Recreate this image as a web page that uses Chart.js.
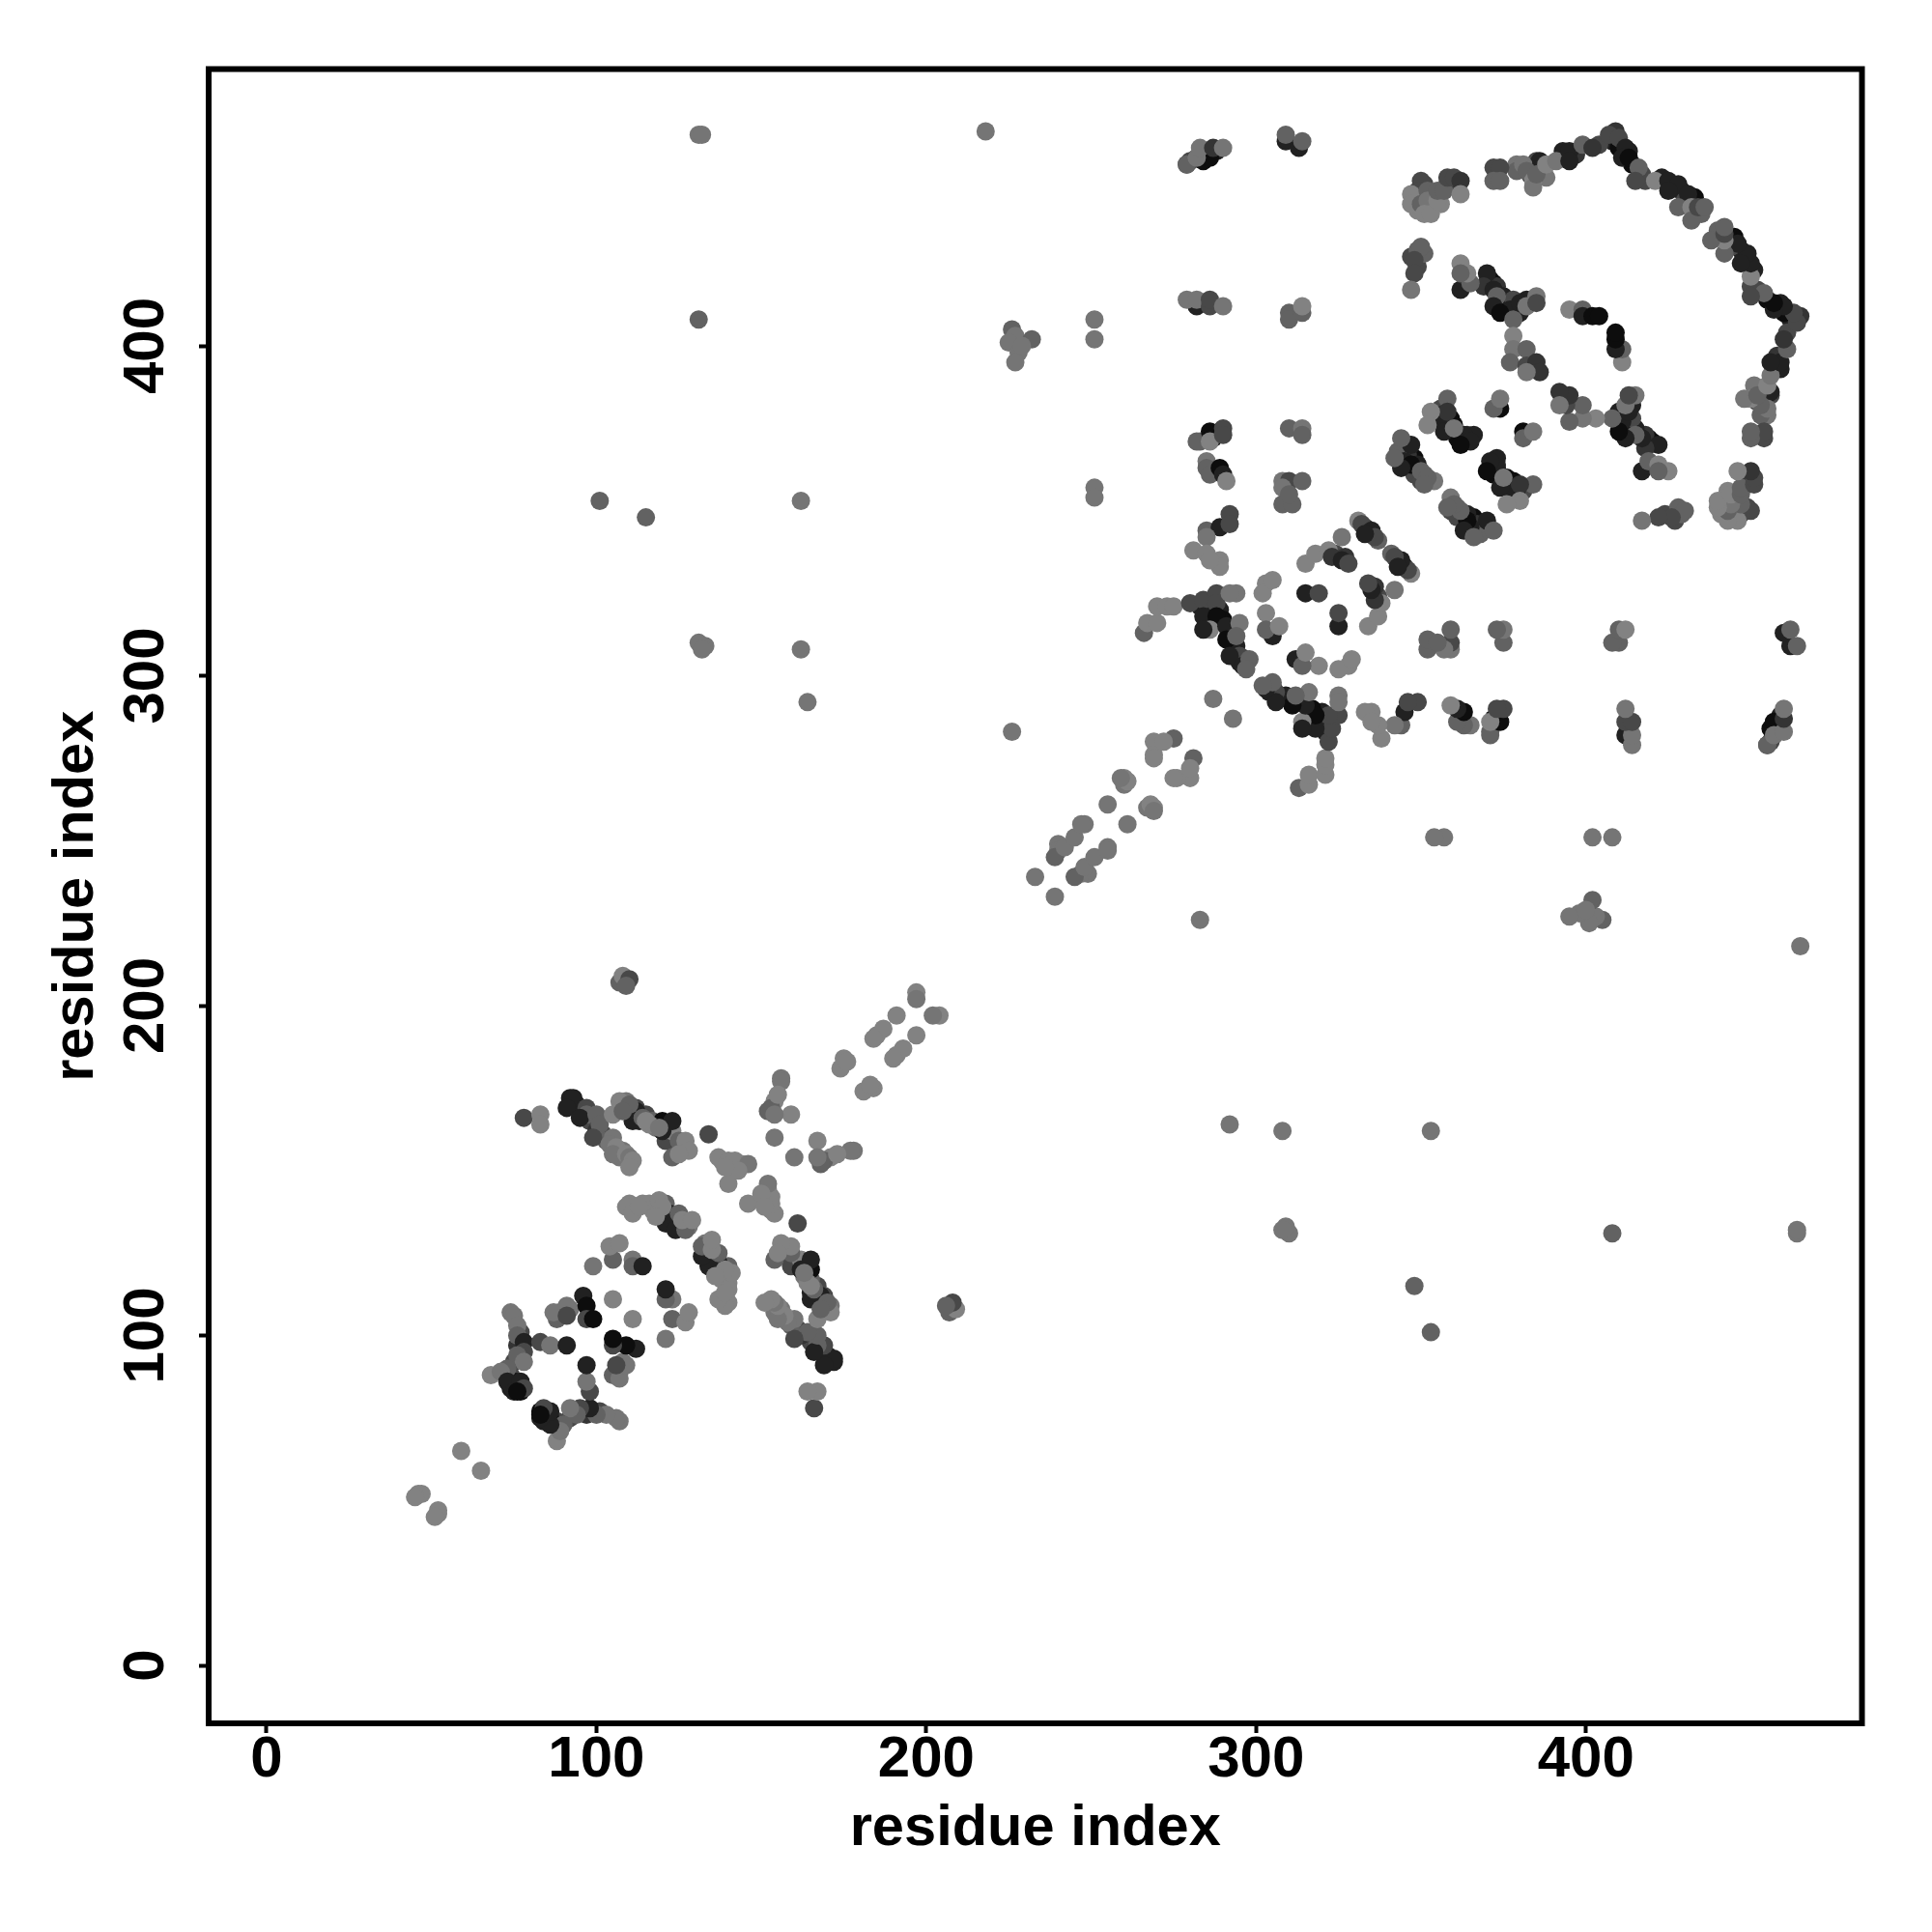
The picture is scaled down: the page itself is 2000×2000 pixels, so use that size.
<!DOCTYPE html>
<html>
<head>
<meta charset="utf-8">
<title>Residue contact map</title>
<script src="https://cdn.jsdelivr.net/npm/chart.js@4"></script>
<style>
  html, body { margin: 0; padding: 0; background: #fff; }
  canvas { display: block; }
</style>
</head>
<body>
<canvas id="contactMap" width="2000" height="2000"></canvas>
<script>
var residueA = [
  94,96,98,100,102,103,107,108,
  109,112,113,115,117,118,121,122,124,126,121,
  112,116,117,122,123,125,128,
  75,74,75,74,77,77,76,89,92,
  138,141,144,
  289,290,293,294,293,295,297,286,283,
  324,327,333,334,337,
  345,348,346,349,351,354,343,348,350,
  356,356,359,360,361,363,364,366,358,355,
  409,408,410,413,414,417,418,423,426,429,430,433,435,393,397,404,
  386,383,388,385,379,379,
  371,370,372,373,375,376,375,379,378,382,380,
  351,354,348,349,356,358,
  347,349,351,
  280,284,288,283,285,
  288,287,289,283,
  46,47,45,59,
  74,75,76,76,78,78,83,86,91,76,78,73,68,71,73,77,78,75,76,
  88,87,91,91,96,97,97,99,105,99,105,104,107,111,111,114,
  120,121,122,121,124,110,109,111,114,113,119,120,118,125,127,126,129,
  92,93,91,97,97,95,100,101,99,105,104,106,105,109,110,111,110,
  112,111,120,123,120,107,105,110,108,114,116,115,123,119,125,127,128,123,125,78,83,83,
  134,137,140,142,146,140,143,139,156,156,154,153,152,155,159,154,154,
  175,174,176,185,187,184,191,197,197,107,108,110,109,
  131,132,218,131,101,115,162,162,164,131,133,132,226,226,227,225,228,227,232,229,251,251,251,251,
  233,240,240,239,242,245,248,247,255,260,260,261,259,269,269,269,275,272,
  266,267,270,270,273,275,280,284,288,288,284,288,286,291,292,291,284,295,294,295,292,296,298,297,287,294,292,303,302,305,305,303,303,307,
  315,319,315,318,322,326,323,326,328,331,332,335,336,333,
  285,289,292,292,285,281,285,289,289,286,282,286,286,290,290,285,285,286,289,290,291,
  282,286,279,279,282,283,287,290,309,309,313,314,282,279,282,286,286,290,310,310,314,314,
  310,314,314,308,310,314,308,308,311,310,
  350,349,347,347,350,352,352,351,353,355,355,357,358,360,362,362,
  372,374,372,374,384,386,381,382,384,384,385,388,391,
  395,395,399,402,407,410,412,411,413,416,415,421,425,428,425,431,428,432,432,434,436,
  349,350,348,348,347,370,369,372,373,372,377,374,378,380,385,382,385,
  362,362,365,364,362,378,378,377,382,382,385,386,382,395,399,399,402,404,
  357,357,363,365,362,358,358,353,352,360,
  347,344,345,347,344,342,350,352,351,374,372,374
];
var residueB = [
  170,168,165,162,161,159,154,156,
  171,169,165,167,165,163,163,160,157,157,159,
  139,140,138,135,134,133,133,
  92,88,86,84,83,101,97,107,108,
  153,150,152,
  320,317,313,309,307,304,305,322,321,
  337,336,345,344,341,
  368,366,367,364,361,359,368,361,359,
  381,379,378,376,372,371,373,373,375,378,
  465,462,460,459,455,452,450,451,448,447,444,445,440,459,458,461,
  454,452,451,456,455,453,
  420,419,419,418,415,413,411,411,414,414,410,
  449,445,444,441,443,449,
  427,424,428,
  456,456,459,413,413,
  362,372,374,371,
  52,52,51,65,
  107,106,103,100,98,95,98,97,97,94,92,90,88,89,86,86,84,83,83,
  105,107,109,106,112,109,105,105,111,121,123,127,128,123,121,121,
  137,140,137,134,132,140,139,137,140,139,141,139,136,137,132,135,135,
  172,172,169,169,167,166,167,164,160,160,158,157,155,155,154,153,151,
  168,165,165,162,162,171,167,170,168,166,164,165,165,163,159,159,156,154,155,166,167,164,
  161,154,153,153,152,146,150,151,178,177,171,169,168,173,167,167,160,
  184,181,183,191,193,190,197,204,202,207,209,208,206,
  464,464,465,408,353,348,353,308,292,310,309,308,283,405,403,401,398,395,402,400,408,402,357,354,
  239,249,247,245,248,251,255,255,261,269,267,268,269,280,276,275,281,280,
  313,316,316,321,321,321,322,323,325,322,318,318,314,315,311,311,314,316,312,306,306,303,305,302,293,325,325,328,325,329,312,319,314,315,
  325,325,334,337,338,342,336,335,334,347,346,344,342,343,
  344,345,349,346,342,338,337,335,333,335,371,374,371,375,373,365,363,361,363,361,359,
  457,457,455,455,457,460,460,460,462,464,460,462,412,414,414,412,414,412,410,408,410,412,
  375,375,373,359,359,359,357,352,352,355,
  450,447,446,443,443,447,444,440,440,444,447,447,451,451,450,446,
  454,454,450,450,454,456,455,453,450,448,452,455,456,
  459,456,461,460,464,463,460,457,457,454,450,450,450,449,447,446,442,442,438,442,442,
  429,430,426,422,417,422,418,417,415,412,411,410,408,413,415,412,413,
  425,417,419,422,422,403,399,395,399,394,395,392,392,411,411,409,409,409,
  377,374,373,371,370,384,380,380,376,375,
  370,372,365,364,363,366,362,360,358,381,381,384
];
// contact strength, 0 is the lightest grey and 0.9 nearly black
var strength = [
  .75,.75,.45,.6,.45,.25,.1,.1,
  .1,.45,.75,.45,.25,.1,.75,.9,.25,.1,.45,
  0,0,0,.9,.9,.75,.1,
  .45,.45,.9,.75,.9,.45,.6,.25,.1,
  0,0,0,
  .75,.9,.9,.75,.75,.75,.6,.6,.75,
  .45,.6,.75,.6,.25,
  .75,.9,.6,.75,.25,.1,.25,.45,.45,
  .45,.75,.9,.9,.9,.75,.6,.75,.75,.1,
  .6,.75,.9,.75,.9,.45,.45,.75,.9,.75,.45,.9,.25,.75,.6,.45,
  .9,.75,.1,.45,.1,.25,
  .9,.75,.9,.6,.75,.9,.9,.45,.45,.75,.75,
  .45,.1,.1,0,0,.6,
  .45,.45,.25,
  .45,.9,.75,.75,.75,
  .9,.9,.75,.25,
  0,0,0,0,
  .1,.1,.1,.25,.75,.45,.45,.1,.75,.25,.1,.25,0,.1,.75,.75,.45,.75,.9,
  .25,.1,.1,.45,.75,.9,.45,.9,0,.1,.25,0,0,.1,.25,.75,
  .9,.25,.75,.75,.75,0,0,0,0,0,0,0,0,.25,.25,0,0,
  .75,.75,.75,.45,.25,.75,.25,.25,.45,.1,.1,0,.1,0,.1,0,0,
  .75,.75,.9,0,.75,0,0,.25,.25,.25,0,0,.75,.1,.25,0,0,.25,0,.45,0,0,
  .45,0,0,0,.1,0,0,0,.1,.1,0,.25,.25,0,0,.1,.1,
  0,0,0,0,0,0,0,0,.1,.25,0,.45,.25,
  .1,.1,.1,.25,.25,.25,.1,.1,.1,.1,.1,.1,.1,.25,.1,.1,.1,.1,.25,.1,.1,.1,.1,.1,
  .1,.1,.1,.25,.1,.1,.1,.1,.1,0,.1,0,.1,0,0,0,.25,0,
  .25,0,0,0,0,0,.45,.45,.45,.45,.75,.9,0,.75,.75,.9,.75,.1,.25,.45,.75,.75,.25,.25,.1,.1,.1,0,0,0,.75,0,.25,0,
  .75,.45,0,0,0,.1,.6,.75,.45,0,.45,.75,.45,.75,
  .25,.75,.45,.45,.1,0,0,0,0,0,.25,.9,0,.45,.45,.1,.25,.25,.9,.75,0,
  .9,.9,.45,.25,.1,.1,.6,.1,.75,.25,.75,.25,.75,.1,.1,.45,.45,.1,.25,.25,.25,0,
  .25,.1,.25,.1,.45,.25,.1,.25,.25,.25,
  .45,.45,0,0,.25,.25,.1,0,0,0,.25,.25,.45,.45,.6,0,
  .45,.45,.25,.25,.9,.75,.1,.25,0,.1,.25,0,.1,
  .75,.75,.25,.6,.45,.45,.75,.75,.9,.25,.45,0,.75,.75,.75,.75,.25,0,.25,.45,.25,
  .25,.25,.45,.45,.1,.75,.6,.75,.25,.75,.75,.9,.25,.75,.1,.1,.45,
  0,.75,.25,0,.25,0,.1,.25,.25,.45,.6,.6,.1,0,.25,.75,.9,.9,
  .75,.75,.75,.75,.9,.25,.6,0,0,.1,
  .75,.25,.75,.9,.75,.25,.25,.25,.25,.9,.25,.1
];
var tickValues = [0, 100, 200, 300, 400];
var axisLabel = "residue index";

function greyOf(s) {
  var g = Math.round(130 * (1 - s));
  return "rgb(" + g + "," + g + "," + g + ")";
}

var points = [];
var colours = [];
residueA.forEach(function(a, i) {
  points.push({ x: a, y: residueB[i] });
  colours.push(greyOf(strength[i]));
});
residueA.forEach(function(a, i) {
  points.push({ x: residueB[i], y: a });
  colours.push(greyOf(strength[i]));
});

var boxFrame = {
  id: "boxFrame",
  afterDatasetsDraw: function(chart) {
    var area = chart.chartArea;
    var ctx = chart.ctx;
    ctx.save();
    ctx.strokeStyle = "#000";
    ctx.lineWidth = 6;
    ctx.strokeRect(area.left, area.top, area.right - area.left, area.bottom - area.top);
    ctx.restore();
  }
};

var tickFont = { family: "'Liberation Sans', Arial, sans-serif", size: 60, weight: "bold" };
var titleFont = { family: "'Liberation Sans', Arial, sans-serif", size: 59.6, weight: "bold" };

new Chart(document.getElementById("contactMap"), {
  type: "scatter",
  data: {
    datasets: [{
      label: "contacts",
      data: points,
      backgroundColor: colours,
      borderWidth: 0,
      pointRadius: 9.5,
      pointHoverRadius: 9.5
    }]
  },
  options: {
    responsive: false,
    animation: false,
    layout: { padding: { left: 0, top: 71.5, right: 72.5, bottom: 0 } },
    plugins: { legend: { display: false }, tooltip: { enabled: false } },
    scales: {
      x: {
        type: "linear",
        min: -17.57,
        max: 483.7,
        afterFit: function(scale) { scale.height = 216; },
        afterBuildTicks: function(scale) {
          scale.ticks = tickValues.map(function(v) { return { value: v }; });
        },
        border: { display: false },
        grid: { drawOnChartArea: false, drawTicks: true, tickLength: 10, tickWidth: 4, tickColor: "#000" },
        ticks: {
          color: "#000",
          font: tickFont,
          padding: -8,
          maxRotation: 0,
          minRotation: 0,
          includeBounds: false
        },
        title: { display: true, text: axisLabel, color: "#000", font: titleFont, padding: { top: 0, bottom: 71 } }
      },
      y: {
        type: "linear",
        min: -17.56,
        max: 483.9,
        afterFit: function(scale) { scale.width = 216; },
        afterBuildTicks: function(scale) {
          scale.ticks = tickValues.map(function(v) { return { value: v }; });
        },
        border: { display: false },
        grid: { drawOnChartArea: false, drawTicks: true, tickLength: 10, tickWidth: 4, tickColor: "#000" },
        ticks: {
          color: "#000",
          font: tickFont,
          padding: 3,
          minRotation: 90,
          maxRotation: 90,
          crossAlign: "center",
          includeBounds: false
        },
        title: { display: true, text: axisLabel, color: "#000", font: titleFont, padding: { top: 44, bottom: 0 } }
      }
    }
  },
  plugins: [boxFrame]
});
</script>
</body>
</html>
